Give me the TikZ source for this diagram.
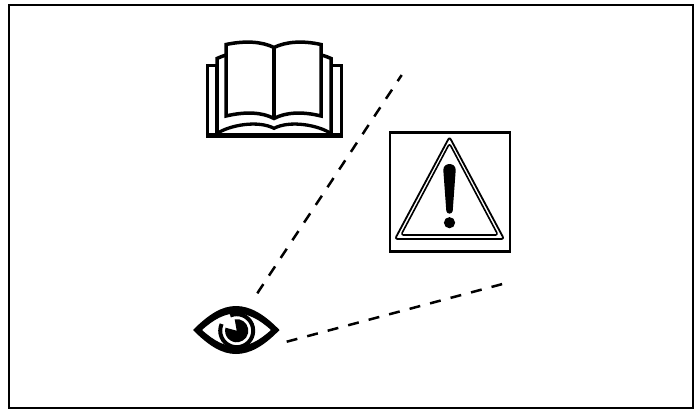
\documentclass[tikz,border=0pt]{standalone}
\tikzset{
  frame/.style={draw=black,line width=2.6pt,fill=white},
  bookline/.style={draw=black,line width=3.5pt,fill=white,line join=miter},
  sight/.style={draw=black,line width=2.5pt,dash pattern=on 11pt off 10.2pt},
  tri/.style={draw=black,rounded corners=2.5pt,line join=round}
}
\begin{document}
\begin{tikzpicture}[x=1pt,y=-1pt]
\useasboundingbox (0,0) rectangle (698,410);
\fill[white] (0,0) rectangle (698,410);
\draw[draw=black,line width=2.4pt] (9,5) rectangle (693,408);
% sight lines
\coordinate (eyeA) at (257.3,293.3);
\coordinate (endA) at (401.7,75);
\coordinate (eyeB) at (286.7,341.7);
\coordinate (endB) at (502.5,284);
\draw[sight] (eyeA) -- (endA);
\draw[sight] (eyeB) -- (endB);
% book
\draw[bookline] (207.5,135.5) -- (207.5,65.5) -- (217,65.5) -- (217,135.5) (341.5,135.5) -- (341.5,65.5) -- (331,65.5) -- (331,135.5);
\draw[bookline] (217,135) -- (217,58.5) .. controls (220,57) and (223,56) .. (226,55) -- (321,55) .. controls (325,56) and (328,57) .. (331,58.5) -- (331,135) -- cycle;
\draw[draw=black,line width=3.3pt] (217,133.5) .. controls (230,125) and (258,120) .. (274,128.3) .. controls (290,120) and (318,125) .. (331,133.5);
\draw[draw=black,line width=4.3pt] (205.9,135.5) -- (343.1,135.5);
\draw[draw=black,line width=3.5pt,fill=white,line join=miter] (226,44.5) .. controls (245,40.5) and (262,41.5) .. (274,47.5) .. controls (286,41.5) and (303,40.5) .. (321,44.5) -- (321,116) .. controls (303,111.5) and (286,112) .. (274,118.5) .. controls (262,112) and (245,111.5) .. (226,116) -- cycle;
\draw[draw=black,line width=3.3pt] (274,47.5) -- (274,118.5);
% warning sign
\draw[frame] (390,132.5) rectangle (510,251.5);
\draw[tri,line width=1.8pt] (449.5,137) -- (504,239) -- (395,239) -- cycle;
\draw[tri,line width=1.6pt] (449.5,143.5) -- (498,235) -- (401,235) -- cycle;
\fill[black] (443.3,170) .. controls (443.3,162) and (455.7,162) .. (455.7,170) -- (452.7,211) .. controls (452,214.5) and (447,214.5) .. (446.3,211) -- cycle;
\fill[black] (449.5,222.7) circle (5.6);
% eye
\fill[black,even odd rule] (193,330) .. controls (209,314) and (222,306) .. (236,306) .. controls (250,306) and (264,314) .. (279.5,330) .. controls (264,346) and (250,354) .. (236,354) .. controls (222,354) and (209,346) .. (193,330) -- cycle
 (202,330) .. controls (214,319) and (225,313.5) .. (236,313.5) .. controls (248,313.5) and (259,319) .. (271,330) .. controls (259,341) and (248,346.5) .. (236,346.5) .. controls (225,346.5) and (214,341) .. (202,330) -- cycle;
\coordinate (pupil) at (236.7,330.7);
\fill[black] (pupil) -- ++(-100:11.6) arc[start angle=-100,delta angle=295,radius=11.6] -- cycle;
\draw[black,line width=4pt] (pupil) ++(-113:16.5) arc[start angle=-113,delta angle=317,radius=16.5];
\end{tikzpicture}
\end{document}
